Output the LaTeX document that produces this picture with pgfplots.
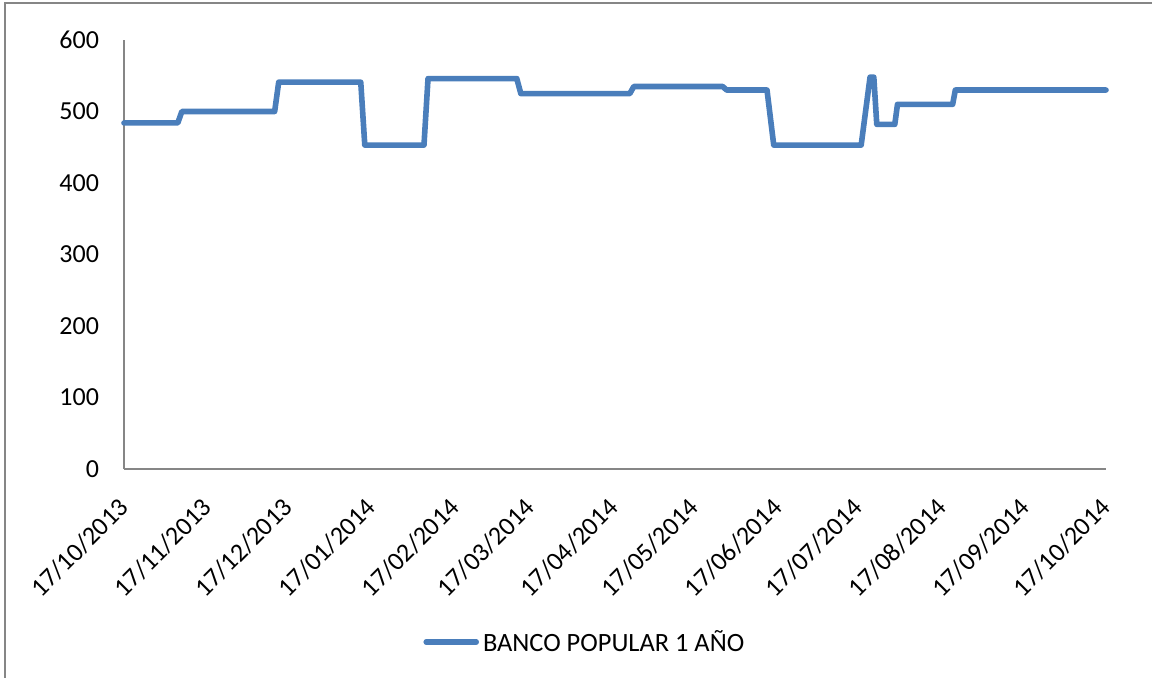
\documentclass[border=0pt]{standalone}
\usepackage{fontspec}
\setmainfont{Carlito}
\usepackage{pgfplots}
\pgfplotsset{compat=1.18}
\definecolor{serie}{RGB}{74,126,187}
\definecolor{eje}{RGB}{134,134,134}

% Day number counted from 17/10/2013, rate value
\pgfplotstableread{
dia valor
0     484
20    484
21.5  500
56    500
57.5  541
88    541
89.5  453
111.5 453
113   546
146   546
147.5 525
188   525
189.5 535
222.5 535
224   530
239   530
241.5 453
274   453
277.3 548
278.7 548
279.8 482
286.5 482
287.5 510
308   510
309   530
365   530
}\popular

\begin{document}
\begin{tikzpicture}[x=1pt,y=1pt]
\useasboundingbox (0,0) rectangle (576,339);
\draw[eje, line width=1pt] (2.5,0) -- (2.5,337.5) -- (576,337.5);
\begin{axis}[
  at={(62pt,104.5pt)}, anchor=south west,
  scale only axis, width=491pt, height=214.5pt,
  xmin=0, xmax=365, ymin=0, ymax=600,
  axis x line*=bottom, axis y line*=left,
  axis line style={eje, line width=0.75pt},
  major tick length=0pt,
  xtick={0,31,61,92,123,151,182,212,243,273,304,335,365},
  xticklabels={17/10/2013,17/11/2013,17/12/2013,17/01/2014,17/02/2014,17/03/2014,17/04/2014,17/05/2014,17/06/2014,17/07/2014,17/08/2014,17/09/2014,17/10/2014},
  ytick={0,100,...,600},
  /pgf/number format/assume math mode=true,
  tick label style={font=\fontsize{13}{15}\selectfont, text=black},
  x tick label style={xshift=-3.5pt, yshift=-8.8pt, rotate=45, anchor=north east},
  y tick label style={xshift=-9pt},
  legend style={at={(0.3045,-0.4033)}, anchor=west, draw=none, fill=none,
    inner xsep=0pt, inner ysep=0pt, font=\fontsize{13.2}{15}\selectfont},
  legend image code/.code={\draw[#1, line cap=round] (0pt,0pt) -- (25pt,0pt);},
  clip=false,
]
\addplot[serie, line width=2.8pt, line join=round, line cap=round] table[x=dia, y=valor] {\popular};
\addlegendentry{BANCO POPULAR 1 AÑO}
\end{axis}
\end{tikzpicture}
\end{document}
